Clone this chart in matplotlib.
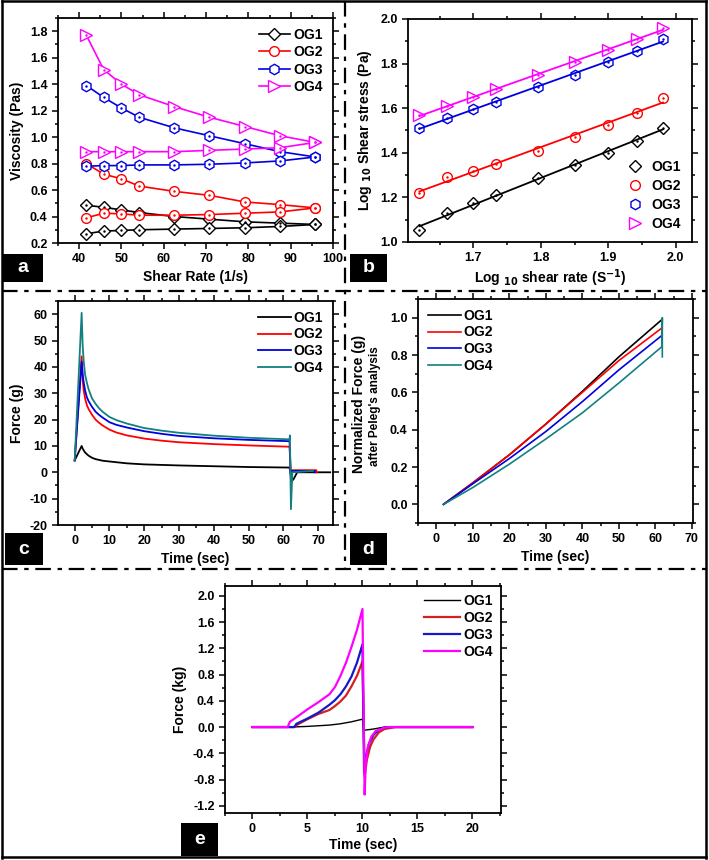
import numpy as np
import matplotlib.pyplot as plt
from matplotlib.lines import Line2D
from matplotlib.patches import Rectangle
from matplotlib.ticker import MultipleLocator

plt.rcParams['font.family'] = ['Liberation Sans', 'DejaVu Sans']
plt.rcParams['font.weight'] = 'bold'
plt.rcParams['axes.labelweight'] = 'bold'
plt.rcParams['axes.unicode_minus'] = False

# ---- panel a: viscosity vs shear rate (up and down ramps) ----
shear_rate = [41.7, 45.8, 50.0, 54.2, 62.5, 70.8, 79.2, 87.5, 95.8]
visc_og1_up = [0.485, 0.47, 0.45, 0.43, 0.40, 0.38, 0.36, 0.35, 0.34]
visc_og1_dn = [0.27, 0.29, 0.295, 0.30, 0.305, 0.31, 0.315, 0.325, 0.34]
visc_og2_up = [0.80, 0.72, 0.685, 0.63, 0.59, 0.56, 0.51, 0.49, 0.465]
visc_og2_dn = [0.39, 0.425, 0.42, 0.41, 0.41, 0.415, 0.425, 0.435, 0.465]
visc_og3_up = [1.39, 1.30, 1.22, 1.15, 1.07, 1.01, 0.95, 0.89, 0.85]
visc_og3_dn = [0.78, 0.785, 0.785, 0.79, 0.79, 0.795, 0.805, 0.82, 0.85]
visc_og4_up = [1.77, 1.51, 1.40, 1.32, 1.23, 1.15, 1.08, 1.01, 0.96]
visc_og4_dn = [0.89, 0.89, 0.89, 0.89, 0.89, 0.90, 0.91, 0.92, 0.96]

# ---- panel b: log shear stress vs log shear rate ----
log_rate = [1.62, 1.661, 1.699, 1.734, 1.796, 1.85, 1.899, 1.942, 1.981]
log_stress_og1 = [1.055, 1.13, 1.175, 1.21, 1.285, 1.345, 1.40, 1.455, 1.51]
log_stress_og2 = [1.22, 1.29, 1.32, 1.35, 1.41, 1.47, 1.525, 1.58, 1.645]
log_stress_og3 = [1.51, 1.555, 1.595, 1.63, 1.695, 1.75, 1.805, 1.855, 1.91]
log_stress_og4 = [1.57, 1.61, 1.65, 1.685, 1.75, 1.805, 1.86, 1.91, 1.96]

# ---- panel c: force relaxation ----
c_t_og1 = [0, 2, 2.3, 2.6, 3, 4, 5, 6, 7, 8, 10, 15, 20, 30, 40, 50, 61.8,
           62.1, 62.4, 63, 64, 73.5]
c_f_og1 = [4.5, 10, 9, 8.3, 7.5, 6.3, 5.5, 5.0, 4.7, 4.4, 4.1, 3.4, 3.0, 2.6, 2.3, 2.0, 1.8,
           -0.5, -3.5, -2.5, 0, 0]
c_t_og2 = [0, 2, 2.3, 2.6, 3, 3.5, 4, 5, 6, 7, 8, 10, 12, 15, 20, 25, 30, 40, 50, 61.8,
           62.2, 62.6, 69.5, 69.6]
c_f_og2 = [4.5, 44, 35, 31, 28, 25.5, 24, 21.8, 20, 18.8, 17.8, 16.2, 15.1, 14, 12.8, 12, 11.4,
           10.7, 10.2, 9.7, -2, 0.8, 0.8, 0]
c_t_og3 = [0, 2, 2.3, 2.6, 3, 3.5, 4, 5, 6, 7, 8, 10, 12, 15, 20, 25, 30, 40, 50, 61.8,
           62.2, 62.6, 69.0, 69.1]
c_f_og3 = [4.5, 42, 37, 34, 31, 28.5, 27, 24.8, 23, 21.8, 20.8, 19, 18, 17, 15.6, 14.6, 13.8,
           12.9, 12.3, 11.8, -3, 0.5, 0.5, 0]
c_t_og4 = [0, 2, 2.3, 2.6, 3, 3.5, 4, 5, 6, 7, 8, 10, 12, 15, 20, 25, 30, 40, 50, 61.8,
           61.9, 62.2, 62.6, 68.5]
c_f_og4 = [4.5, 60.5, 48, 42, 37, 34, 31.5, 28, 26, 24.3, 23, 21, 19.8, 18.5, 16.8, 15.8, 15,
           13.9, 13.1, 12.5, 14, -14, 0, 0.5]

# ---- panel d: normalized force after Peleg's analysis ----
d_t = [2, 10, 20, 30, 40, 50, 61.8]
d_f_og1 = [0, 0.115, 0.265, 0.43, 0.605, 0.79, 0.99]
d_f_og2 = [0, 0.115, 0.265, 0.43, 0.60, 0.77, 0.945]
d_f_og3 = [0, 0.11, 0.245, 0.39, 0.55, 0.72, 0.905]
d_f_og4 = [0, 0.09, 0.215, 0.35, 0.49, 0.65, 0.845]
d_t_og4_end = [61.8, 61.9, 61.9]
d_f_og4_end = [0.845, 1.0, 0.79]

# ---- panel e: force vs time (kg) ----
e_t_og1 = [0, 3.5, 5, 7, 8, 9, 10, 10.1, 11, 12, 20]
e_f_og1 = [0, 0, 0.01, 0.03, 0.05, 0.08, 0.12, -0.05, -0.03, 0, 0]
e_t_og2 = [0, 3.8, 4, 5, 6, 7, 7.5, 8, 8.5, 9, 9.5, 10,
           10.2, 10.4, 10.7, 11, 11.5, 12, 13, 20]
e_f_og2 = [0, 0, 0.03, 0.12, 0.2, 0.26, 0.32, 0.39, 0.48, 0.62, 0.78, 1.0,
           -0.75, -0.5, -0.3, -0.19, -0.08, -0.03, 0, 0]
e_t_og3 = [0, 3.8, 4, 5, 6, 7, 7.5, 8, 8.5, 9, 9.5, 10,
           10.15, 10.3, 10.6, 11, 11.5, 12, 12.5, 20]
e_f_og3 = [0, 0, 0.05, 0.13, 0.22, 0.34, 0.41, 0.5, 0.62, 0.77, 0.98, 1.26,
           -0.7, -0.45, -0.25, -0.12, -0.04, -0.01, 0, 0]
e_t_og4 = [0, 3.2, 3.4, 4, 5, 6, 7, 7.5, 8, 8.5, 9, 9.5, 10,
           10.2, 10.3, 10.5, 10.8, 11.2, 12, 12.5, 20]
e_f_og4 = [0, 0, 0.08, 0.15, 0.27, 0.38, 0.5, 0.61, 0.78, 0.98, 1.22, 1.48, 1.8,
           -1.03, -0.55, -0.3, -0.15, -0.06, -0.01, 0, 0]

W, H = 709, 860
fig = plt.figure(figsize=(W / 100, H / 100), dpi=100)


def px_axes(l, t, r, b):
    return fig.add_axes([l / W, 1 - b / H, (r - l) / W, (b - t) / H])


def style(ax, xmaj, xmin, ymaj, ymin):
    ax.xaxis.set_major_locator(MultipleLocator(xmaj))
    ax.xaxis.set_minor_locator(MultipleLocator(xmin))
    ax.yaxis.set_major_locator(MultipleLocator(ymaj))
    ax.yaxis.set_minor_locator(MultipleLocator(ymin))
    ax.tick_params(which='both', direction='out', top=True, right=True, width=1.1, labelsize=9)
    ax.tick_params(which='major', length=4)
    ax.tick_params(which='minor', length=2.5)
    for lab in ax.get_xticklabels() + ax.get_yticklabels():
        lab.set_fontweight('bold')
    for s in ax.spines.values():
        s.set_linewidth(1.3)


def panel_tag(x0, y0, x1, y1, letter):
    fig.add_artist(Rectangle((x0 / W, 1 - y1 / H), (x1 - x0) / W, (y1 - y0) / H,
                             transform=fig.transFigure, facecolor='black', edgecolor='none'))
    fig.text((x0 + x1) / 2 / W, 1 - (y0 + y1) / 2 / H, letter, color='white',
             fontsize=14, fontweight='bold', ha='center', va='center')


colors = ['black', 'red', '#0000E0', '#FF00FF']
names = ['OG1', 'OG2', 'OG3', 'OG4']
marks = ['D', 'o', 'h', '>']
msizes = [6, 7, 7.5, 8]

# a
ax = px_axes(58, 18, 333, 243)
ups = [visc_og1_up, visc_og2_up, visc_og3_up, visc_og4_up]
dns = [visc_og1_dn, visc_og2_dn, visc_og3_dn, visc_og4_dn]
for up, dn, c, m, ms, n in zip(ups, dns, colors, marks, msizes, names):
    ax.plot(shear_rate, up, color=c, marker=m, ms=ms, mfc='white', mec=c, mew=1, lw=1.2, label=n)
    ax.plot(shear_rate, dn, color=c, marker=m, ms=ms, mfc='white', mec=c, mew=1, lw=1.2)
    ax.plot(shear_rate + shear_rate, up + dn, ls='none', marker='.', ms=1.5, color=c)
ax.set_xlim(35, 100)
ax.set_ylim(0.2, 1.9)
style(ax, 10, 5, 0.2, 0.1)
ax.set_xlabel('Shear Rate (1/s)', fontsize=10, labelpad=3)
ax.set_ylabel('Viscosity (Pas)', fontsize=10, labelpad=4)
ax.legend(loc='upper right', frameon=False, fontsize=10, handlelength=2.2,
          numpoints=1, borderaxespad=0.3, labelspacing=0.25, handletextpad=0.3)

# b
ax = px_axes(408, 19, 692, 242)
stresses = [log_stress_og1, log_stress_og2, log_stress_og3, log_stress_og4]
lr = np.array(log_rate)
for s, c, m, ms, n in zip(stresses, colors, marks, msizes, names):
    k, b0 = np.polyfit(lr, s, 1)
    ax.plot(lr, k * lr + b0, color=c, lw=1.3)
    ax.plot(lr, s, ls='none', marker=m, ms=ms, mfc='none', mec=c, mew=1, label=n)
    ax.plot(lr, s, ls='none', marker='.', ms=1.5, color=c)
ax.set_xlim(1.603, 2.024)
ax.set_ylim(1.0, 2.0)
style(ax, 0.1, 0.05, 0.2, 0.1)
ax.set_xlabel('Log $_{10}$ shear rate (S$^{-1}$)', fontsize=10, labelpad=2)
ax.set_ylabel('Log $_{10}$ Shear stress (Pa)', fontsize=10, labelpad=4)
ax.legend(loc='lower right', frameon=False, fontsize=10, handlelength=1.2,
          borderaxespad=0.4, labelspacing=0.35, handletextpad=0.6)

# c
ax = px_axes(58, 301, 333, 525)
c_series = [(c_t_og1, c_f_og1), (c_t_og2, c_f_og2), (c_t_og3, c_f_og3), (c_t_og4, c_f_og4)]
c_cols = ['black', 'red', '#0000E0', '#128080']
for (t, f), c, n in zip(c_series, c_cols, names):
    ax.plot(t, f, color=c, lw=1.3, label=n)
ax.set_xlim(-4.8, 74.3)
ax.set_ylim(-20, 65)
style(ax, 10, 5, 10, 5)
ax.set_xlabel('Time (sec)', fontsize=10, labelpad=3)
ax.set_ylabel('Force (g)', fontsize=10, labelpad=4)
ax.legend(loc='upper right', frameon=False, fontsize=10, handlelength=2.4,
          borderaxespad=0.3, labelspacing=0.2, handletextpad=0.2)

# d
ax = px_axes(418, 299, 693, 523)
d_series = [d_f_og1, d_f_og2, d_f_og3, d_f_og4]
for f, c, n in zip(d_series, c_cols, names):
    ax.plot(d_t, f, color=c, lw=1.2, label=n)
ax.plot(d_t_og4_end, d_f_og4_end, color=c_cols[3], lw=1.2)
ax.set_xlim(-5, 70.3)
ax.set_ylim(-0.1, 1.1)
style(ax, 10, 5, 0.2, 0.1)
ax.set_xlabel('Time (sec)', fontsize=10, labelpad=3)
ax.text(-0.215, 0.53, 'Normalized Force (g)', transform=ax.transAxes, rotation=90,
        fontsize=10, fontweight='bold', ha='center', va='center')
ax.text(-0.155, 0.52, "after Peleg's analysis", transform=ax.transAxes, rotation=90,
        fontsize=8.5, fontweight='bold', ha='center', va='center')
ax.legend(loc='upper left', frameon=False, fontsize=10, handlelength=2.4,
          borderaxespad=0.3, labelspacing=0.2, handletextpad=0.2)

# e
ax = px_axes(225, 586, 501, 813)
e_series = [(e_t_og1, e_f_og1), (e_t_og2, e_f_og2), (e_t_og3, e_f_og3), (e_t_og4, e_f_og4)]
e_cols = ['black', '#D42020', '#1818C8', '#FF00FF']
e_lw = [1.0, 1.6, 1.6, 1.6]
for (t, f), c, w, n in zip(e_series, e_cols, e_lw, names):
    ax.plot(t, f, color=c, lw=w, label=n)
ax.set_xlim(-2.5, 22.6)
ax.set_ylim(-1.31, 2.15)
style(ax, 5, 2.5, 0.4, 0.2)
ax.set_xlabel('Time (sec)', fontsize=10, labelpad=2)
ax.set_ylabel('Force (kg)', fontsize=10, labelpad=4)
ax.legend(loc='upper right', frameon=False, fontsize=10, handlelength=2.6,
          borderaxespad=0.2, labelspacing=0.2, handletextpad=0.2)

# panel tags
panel_tag(3, 254, 43, 282, 'a')
panel_tag(350, 254, 387, 282, 'b')
panel_tag(5, 533, 43, 565, 'c')
panel_tag(350, 533, 387, 565, 'd')
panel_tag(181, 823, 218, 856, 'e')

# outer frame and dash-dot dividers
dashdot = (0, (7, 3, 2, 3))
frame = [((2, 2), (1, 858)), ((706, 706), (1, 858)), ((2, 706), (1, 1)), ((2, 706), (857, 857))]
for xs, ys in frame:
    fig.add_artist(Line2D([x / W for x in xs], [1 - y / H for y in ys],
                          transform=fig.transFigure, color='black', lw=1.8))
dividers = [((2, 706), (291, 291)), ((2, 706), (569, 569)), ((345, 345), (1, 569))]
for xs, ys in dividers:
    fig.add_artist(Line2D([x / W for x in xs], [1 - y / H for y in ys],
                          transform=fig.transFigure, color='black', lw=1.6, ls=dashdot))

fig.savefig('out.png', dpi=100)
